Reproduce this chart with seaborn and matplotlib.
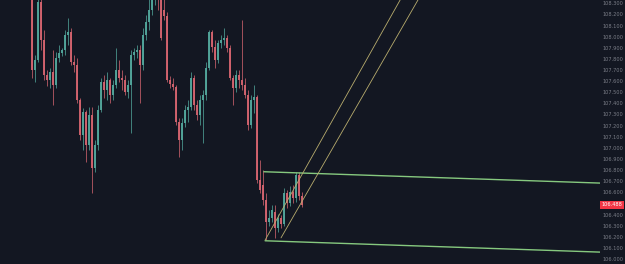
import matplotlib
matplotlib.use("Agg")
import matplotlib.pyplot as plt
import seaborn as sns
import numpy as np
import pandas as pd

sns.set_theme(style="dark")
plt.rcParams['font.family'] = ['DejaVu Sans']

# OHLC candle data (price)
opens = [108.420, 107.700, 107.790, 108.312, 107.970, 107.655, 107.610, 107.682, 107.565, 107.808,
         107.853, 107.880, 108.015, 108.042, 107.772, 107.745, 107.430, 107.115, 107.322, 107.025,
         107.295, 106.818, 107.025, 107.340, 107.592, 107.520, 107.610, 107.475, 107.565, 107.700,
         107.628, 107.610, 107.502, 107.565, 107.835, 107.862, 107.880, 107.745, 108.015, 108.132,
         108.240, 108.375, 108.420, 108.330, 108.240, 108.186, 107.610, 107.574, 107.547, 107.232,
         107.070, 107.223, 107.340, 107.367, 107.628, 107.385, 107.295, 107.430, 107.475, 107.718,
         108.042, 107.907, 107.790, 107.943, 107.970, 107.988, 107.898, 107.628, 107.538, 107.655,
         107.610, 107.565, 107.475, 107.205, 107.430, 107.457, 106.710, 106.665, 106.530, 106.332,
         106.368, 106.422, 106.278, 106.368, 106.314, 106.593, 106.503, 106.602, 106.548, 106.755,
         106.566]
closes = [107.700, 107.790, 108.312, 107.970, 107.655, 107.610, 107.682, 107.565, 107.808, 107.853,
          107.880, 108.015, 108.042, 107.772, 107.745, 107.430, 107.115, 107.322, 107.025, 107.295,
          106.818, 107.025, 107.340, 107.592, 107.520, 107.610, 107.475, 107.565, 107.700, 107.628,
          107.610, 107.502, 107.565, 107.835, 107.862, 107.880, 107.745, 108.015, 108.132, 108.240,
          108.375, 108.420, 108.330, 107.988, 108.186, 107.610, 107.574, 107.547, 107.232, 107.070,
          107.223, 107.340, 107.367, 107.628, 107.385, 107.295, 107.430, 107.475, 107.718, 108.042,
          107.907, 107.790, 107.943, 107.970, 107.988, 107.898, 107.628, 107.538, 107.655, 107.610,
          107.565, 107.475, 107.205, 107.430, 107.457, 106.710, 106.620, 106.530, 106.332, 106.368,
          106.440, 106.278, 106.368, 106.314, 106.593, 106.503, 106.602, 106.548, 106.755, 106.566,
          106.488]
highs = [108.510, 107.835, 108.465, 108.420, 108.060, 107.700, 107.718, 107.880, 107.862, 107.925,
         107.898, 108.060, 108.168, 108.078, 107.835, 107.808, 107.448, 107.358, 107.340, 107.367,
         107.367, 107.070, 107.385, 107.628, 107.655, 107.682, 107.628, 107.610, 107.898, 107.790,
         107.700, 107.655, 107.610, 107.880, 107.898, 107.925, 107.925, 108.078, 108.195, 108.375,
         108.510, 108.510, 108.510, 108.420, 108.375, 108.222, 107.646, 107.628, 107.565, 107.268,
         107.268, 107.385, 107.430, 107.682, 107.655, 107.430, 107.475, 107.520, 107.772, 108.060,
         108.060, 107.970, 107.970, 108.015, 108.078, 108.015, 107.925, 107.655, 107.700, 107.700,
         108.150, 107.628, 107.520, 107.475, 107.565, 107.475, 106.890, 106.800, 106.593, 106.440,
         106.485, 106.485, 106.404, 106.395, 106.638, 106.620, 106.656, 106.665, 106.782, 106.782,
         106.602]
lows = [107.628, 107.592, 107.772, 107.880, 107.610, 107.556, 107.538, 107.385, 107.538, 107.772,
        107.826, 107.835, 107.925, 107.745, 107.682, 107.403, 107.070, 106.980, 106.872, 106.980,
        106.593, 106.782, 106.980, 107.322, 107.448, 107.430, 107.403, 107.430, 107.538, 107.592,
        107.520, 107.475, 107.448, 107.133, 107.790, 107.808, 107.403, 107.700, 107.970, 108.060,
        108.195, 108.285, 108.240, 107.970, 108.150, 107.592, 107.538, 107.520, 107.205, 106.917,
        106.980, 107.187, 107.232, 107.340, 107.340, 107.250, 107.205, 107.043, 107.430, 107.700,
        107.862, 107.718, 107.763, 107.898, 107.925, 107.862, 107.610, 107.385, 107.502, 107.538,
        107.520, 107.448, 107.160, 107.178, 107.313, 106.683, 106.593, 106.485, 106.170, 106.296,
        106.332, 106.188, 106.242, 106.278, 106.296, 106.458, 106.476, 106.503, 106.512, 106.530,
        106.467]

# Drawing tools (bar index, price)
channel_top_x = [77.3, 189.3]
channel_top_y = [106.785, 106.683]
channel_bot_x = [77.7, 189.3]
channel_bot_y = [106.164, 106.062]
pitch1_x = [77.7, 125.0]
pitch1_y = [106.170, 108.440]
pitch2_x = [83.0, 131.0]
pitch2_y = [106.190, 108.440]

tick_values = [round(106.0 + 0.1 * k, 1) for k in range(24)]
last_price_label = "106.488"

BG = "#131722"
UP = "#52a69b"
DOWN = "#d4646f"

df = pd.DataFrame({"o": opens, "c": closes, "h": highs, "l": lows})
df["i"] = np.arange(len(df))
df["up"] = df["c"] >= df["o"]

fig = plt.figure(figsize=(6.25, 2.64), dpi=100, facecolor=BG)
ax = fig.add_axes([0, 0, 600 / 625, 1])
ax.set_facecolor(BG)

cols = np.where(df["up"], UP, DOWN)
ax.vlines(df["i"], df["l"], df["h"], colors=cols, linewidth=0.7, alpha=0.75, zorder=2)
bottom = np.minimum(df["o"], df["c"])
height = np.maximum(np.abs(df["c"] - df["o"]), 0.004)
ax.bar(df["i"], height, bottom=bottom, width=0.7, color=cols, edgecolor="none", zorder=3, alpha=0.95)

sns.lineplot(x=channel_top_x, y=channel_top_y, ax=ax, color="#86c97f", linewidth=1.0, zorder=4)
sns.lineplot(x=channel_bot_x, y=channel_bot_y, ax=ax, color="#86c97f", linewidth=1.0, zorder=4)
sns.lineplot(x=pitch1_x, y=pitch1_y, ax=ax, color="#b9ad6e", linewidth=0.6, zorder=4)
sns.lineplot(x=pitch2_x, y=pitch2_y, ax=ax, color="#b9ad6e", linewidth=0.6, zorder=4)

ax.set_xlim(-32 / 3, 568 / 3)
ax.set_ylim(105.955, 108.330)
ax.grid(False)
for s in ax.spines.values():
    s.set_visible(False)
ax.set_xticks([])
ax.yaxis.tick_right()
ax.set_yticks(tick_values)
ax.set_yticklabels([f"{v:.3f}" for v in tick_values])
ax.tick_params(axis="y", length=0, pad=2, labelsize=3.6, labelcolor="#7b7e88")
ax.set_xlabel("")
ax.set_ylabel("")

ax.text(1.0 + 1.5 / 600, float(last_price_label), last_price_label,
        transform=ax.get_yaxis_transform(), ha="left", va="center",
        fontsize=3.6, color="white", zorder=10, clip_on=False,
        bbox=dict(boxstyle="square,pad=0.35", facecolor="#f23645", edgecolor="none"))

fig.savefig("out.png", dpi=100, facecolor=BG)
